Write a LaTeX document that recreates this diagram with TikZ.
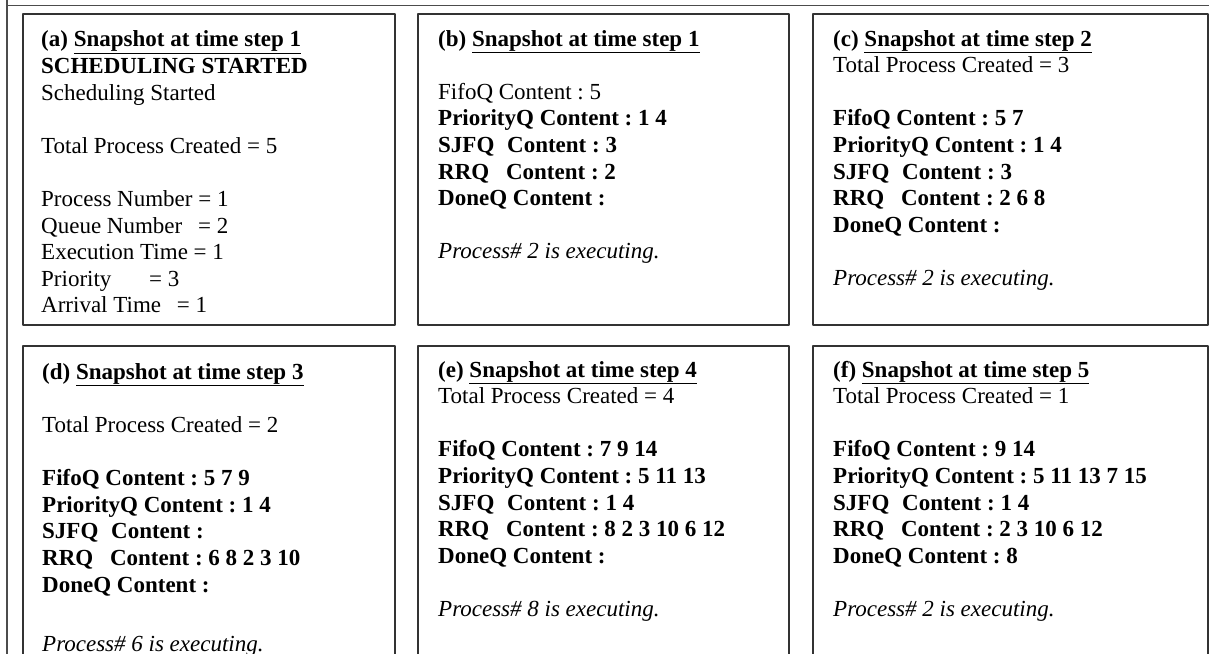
\documentclass[tikz,border=0pt]{standalone}
\usepackage{fontspec}
\setmainfont{Liberation Serif}
\frenchspacing
\newcommand{\snaptitle}[2]{\textbf{(#1) \underline{Snapshot at time step #2}}}
\newcommand{\skipline}{26.6bp}
\begin{document}
\begin{tikzpicture}[line join=bevel,
  panel/.style={draw=black!80,line width=1.6bp,inner sep=0pt},
  snap/.style={anchor=base west,inner sep=0pt,align=left,
    font=\fontsize{23bp}{26.6bp}\selectfont},
  frame/.style={draw=black!70,line width=1.3bp}]
\useasboundingbox (0bp,0bp) rectangle (1209bp,654bp);
%%
\draw [frame] (7bp,660bp) -- (7bp,-10bp);
\draw [frame] (6.35bp,648.5bp) -- (1215bp,648.5bp);
%
\node (box_a) at (209.0bp,484.5bp) [panel,minimum width=372bp,minimum height=311bp] {};
  \node (box_b) at (603.5bp,484.5bp) [panel,minimum width=371bp,minimum height=311bp] {};
  \node (box_c) at (1010.5bp,484.5bp) [panel,minimum width=395bp,minimum height=311bp] {};
  \node (box_d) at (209.0bp,131.0bp) [panel,minimum width=372bp,minimum height=354bp] {};
  \node (box_e) at (603.5bp,131.0bp) [panel,minimum width=371bp,minimum height=354bp] {};
  \node (box_f) at (1010.5bp,131.0bp) [panel,minimum width=395bp,minimum height=354bp] {};
%
% texts are placed at the baseline of their last line
\node (txt_a) at (41.0bp,341.0bp) [snap] {\snaptitle{a}{1}\\
  \textbf{SCHEDULING STARTED}\\
  Scheduling Started\\[\skipline]
  Total Process Created = 5\\[\skipline]
  Process Number = 1\\
  Queue Number\hspace{10bp} = 2\\
  Execution Time = 1\\
  Priority\hspace{32bp} = 3\\
  Arrival Time\hspace{10bp} = 1};
  \node (txt_b) at (438.0bp,395.0bp) [snap] {\snaptitle{b}{1}\\[\skipline]
  FifoQ Content : 5\\
  \textbf{PriorityQ Content : 1 4}\\
  \textbf{SJFQ\hspace{7bp} Content : 3}\\
  \textbf{RRQ\hspace{11bp} Content : 2}\\
  \textbf{DoneQ Content :}\\[\skipline]
  \textit{Process\# 2 is executing.}};
  \node (txt_c) at (833.0bp,368.5bp) [snap] {\snaptitle{c}{2}\\
  Total Process Created = 3\\[\skipline]
  \textbf{FifoQ Content : 5 7}\\
  \textbf{PriorityQ Content : 1 4}\\
  \textbf{SJFQ\hspace{7bp} Content : 3}\\
  \textbf{RRQ\hspace{11bp} Content : 2 6 8}\\
  \textbf{DoneQ Content :}\\[\skipline]
  \textit{Process\# 2 is executing.}};
  \node (txt_d) at (42.0bp,3.0bp) [snap] {\snaptitle{d}{3}\\[\skipline]
  Total Process Created = 2\\[\skipline]
  \textbf{FifoQ Content : 5 7 9}\\
  \textbf{PriorityQ Content : 1 4}\\
  \textbf{SJFQ\hspace{7bp} Content :}\\
  \textbf{RRQ\hspace{11bp} Content : 6 8 2 3 10}\\
  \textbf{DoneQ Content :}\\[32.4bp]
  \textit{Process\# 6 is executing.}};
  \node (txt_e) at (438.0bp,37.5bp) [snap] {\snaptitle{e}{4}\\
  Total Process Created = 4\\[\skipline]
  \textbf{FifoQ Content : 7 9 14}\\
  \textbf{PriorityQ Content : 5 11 13}\\
  \textbf{SJFQ\hspace{7bp} Content : 1 4}\\
  \textbf{RRQ\hspace{11bp} Content : 8 2 3 10 6 12}\\
  \textbf{DoneQ Content :}\\[\skipline]
  \textit{Process\# 8 is executing.}};
  \node (txt_f) at (833.0bp,37.5bp) [snap] {\snaptitle{f}{5}\\
  Total Process Created = 1\\[\skipline]
  \textbf{FifoQ Content : 9 14}\\
  \textbf{PriorityQ Content : 5 11 13 7 15}\\
  \textbf{SJFQ\hspace{7bp} Content : 1 4}\\
  \textbf{RRQ\hspace{11bp} Content : 2 3 10 6 12}\\
  \textbf{DoneQ Content : 8}\\[\skipline]
  \textit{Process\# 2 is executing.}};
%
\end{tikzpicture}
\end{document}
